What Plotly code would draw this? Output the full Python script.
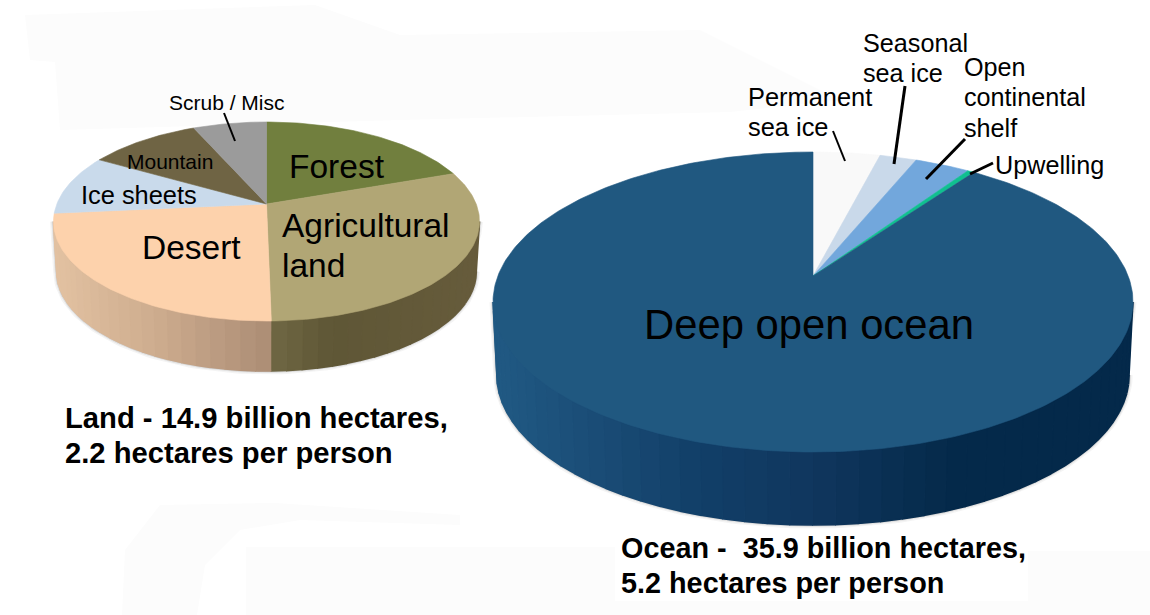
import numpy as np
import plotly.graph_objects as go

# Share of each biome, percent of the total area, clockwise from twelve o'clock
land_labels = ["Forest", "Agricultural land", "Desert", "Ice sheets", "Mountain", "Scrub / Misc"]
land_shares = [19.6, 30.1, 23.8, 9.8, 10.1, 6.6]
land_colors = ["#717f3e", "#b1a675", "#fdd2ac", "#c9daeb", "#6f6444", "#9b9b9b"]

ocean_labels = ["Permanent sea ice", "Seasonal sea ice", "Open continental shelf", "Upwelling", "Deep open ocean"]
ocean_shares = [4.0, 2.2, 3.3, 0.4, 90.1]
ocean_colors = ["#f9f9f9", "#c9d9ea", "#72a7dc", "#10c090", "#205880"]

# Rim shading per slice: (screen x, colour) stops
land_rim = {
    "Agricultural land": [(271, "#706845"), (330, "#5f5736"), (479, "#675c3c")],
    "Desert": [(53, "#e3c2a2"), (150, "#cfae90"), (271, "#ac8d75")],
}
ocean_rim = {
    "Deep open ocean": [(493, "#215a84"), (600, "#1a4c76"), (700, "#123f68"),
                        (813, "#10375e"), (950, "#052a4b"), (1133, "#04294a")],
}

# Pie geometry: apex, half extents behind and in front of it, half width, rim depth
land_geom = dict(cx=266.5, cy=204, back=82, front=117, half=213, depth=50, base=0.985)
ocean_geom = dict(cx=813, cy=276, back=124, front=176, half=320, depth=73, base=0.988)

# Text labels: string, left x, centre y, size
labels = [
    ("Forest", 288, 166, 33.5), ("Agricultural", 281, 225, 33.5), ("land", 281, 265, 33.5),
    ("Desert", 141, 247, 33.5), ("Ice sheets", 80, 195, 25.4), ("Mountain", 126, 161, 21),
    ("Scrub / Misc", 168, 102, 21), ("Deep open ocean", 643, 324, 41.8),
    ("Permanent", 747, 97, 25.4), ("sea ice", 747, 127, 25.4),
    ("Seasonal", 862, 43, 25.2), ("sea ice", 862, 73, 25.2),
    ("Open", 963, 67, 25.2), ("continental", 963, 97, 25.2), ("shelf", 963, 128, 25.2),
    ("Upwelling", 994, 165, 25.2),
]
captions = [
    ("Land - 14.9 billion hectares,", 64, 418, 29.2), ("2.2 hectares per person", 64, 453, 29.2),
    ("Ocean -  35.9 billion hectares,", 620, 548, 28.8), ("5.2 hectares per person", 620, 583, 28.8),
]
# Leader lines from labels into their slices: x0, y0, x1, y1, width
leaders = [
    (224, 113, 235, 141, 2), (833, 131, 845, 161, 2), (905, 86, 894, 164, 3),
    (965, 139, 926, 179, 3), (993, 163, 970, 174, 3),
]
# Very pale washes on the page behind the artwork
washes = [
    "M25,15 L315,5 L400,35 L700,30 L840,100 L730,112 L400,120 L60,130 L55,62 L30,60 Z",
    "M122,615 L125,550 L160,505 L275,503 L460,515 L460,525 L300,520 L240,530 L205,565 L197,615 Z",
    "M246,547 L615,547 L615,601 L1028,601 L1028,551 L1150,551 L1150,615 L246,615 Z",
]


def projector(g):
    """Perspective projection of the pie's unit disc onto the page."""
    k = (g["front"] - g["back"]) / (g["front"] + g["back"])
    a = g["back"] * (1 + k)
    b = g["half"] * np.sqrt(1 - k * k)

    def project(theta, scale=1.0, drop=0.0):
        u, v = np.sin(theta), np.cos(theta)
        w = 1 + k * v
        return g["cx"] + scale * b * u / w, g["cy"] - a * v / w + drop

    return project, k


def hex_rgb(c):
    return np.array([int(c[i:i + 2], 16) for i in (1, 3, 5)], float)


def rim_color(stops, x):
    xs = [s[0] for s in stops]
    rgb = np.array([hex_rgb(s[1]) for s in stops])
    vals = [np.interp(x, xs, rgb[:, i]) for i in range(3)]
    return "rgb(%d,%d,%d)" % tuple(vals)


def poly(fig, x, y, color, lw=0.6, line=None):
    fig.add_trace(go.Scatter(
        x=x, y=y, mode="lines", fill="toself", fillcolor=color,
        line=dict(color=line or color, width=lw), hoverinfo="skip", showlegend=False,
    ))


def add_pie(fig, names, shares, colors, rim, g):
    project, k = projector(g)
    edges = np.concatenate([[0], np.cumsum(shares)]) / np.sum(shares) * 2 * np.pi
    left, right = 2 * np.pi - np.arccos(-k), np.arccos(-k)

    # Soft contact shadow under the rim
    t = np.linspace(right, left, 120)
    tx, ty = project(t)
    bx, by = project(t, g["base"], g["depth"])
    sx = np.concatenate([tx, bx[::-1]])
    sy = np.concatenate([ty, by[::-1]])
    for width, alpha in [(7, 0.05), (4, 0.09), (2, 0.14)]:
        poly(fig, sx, sy, "rgba(0,0,0,0)", lw=width, line="rgba(40,40,40,%.2f)" % alpha)

    # Rim strips along the front of the pie, stroked wide enough to close the seams
    for name, a0, a1 in zip(names, edges[:-1], edges[1:]):
        lo, hi = max(a0, right), min(a1, left)
        if name not in rim or hi <= lo:
            continue
        n = max(2, int(abs(hi - lo) / 0.06))
        grid = np.linspace(lo, hi, n + 1)
        for s0, s1 in zip(grid[:-1], grid[1:]):
            t = np.linspace(s0, s1, 5)
            tx, ty = project(t)
            bx, by = project(t, g["base"], g["depth"])
            c = rim_color(rim[name], float(np.mean(tx)))
            poly(fig, np.concatenate([tx, bx[::-1]]), np.concatenate([ty, by[::-1]]), c, lw=1.6)

    # Top face wedges
    for color, a0, a1 in zip(colors, edges[:-1], edges[1:]):
        t = np.linspace(a0, a1, max(3, int((a1 - a0) * 60)))
        x, y = project(t)
        poly(fig, np.concatenate([[g["cx"]], x, [g["cx"]]]),
             np.concatenate([[g["cy"]], y, [g["cy"]]]), color)


fig = go.Figure()
for path in washes:
    fig.add_shape(type="path", path=path, xref="x", yref="y", layer="below",
                  fillcolor="#fcfcfc", line=dict(width=0))

add_pie(fig, land_labels, land_shares, land_colors, land_rim, land_geom)
add_pie(fig, ocean_labels, ocean_shares, ocean_colors, ocean_rim, ocean_geom)

for x0, y0, x1, y1, w in leaders:
    fig.add_shape(type="line", x0=x0, y0=y0, x1=x1, y1=y1, xref="x", yref="y",
                  line=dict(color="#000000", width=w))

for text, x, y, size in labels:
    fig.add_annotation(x=x, y=y, text=text, showarrow=False, xanchor="left", yanchor="middle",
                       borderpad=0, font=dict(family="Liberation Sans", size=size, color="#000000"))
for text, x, y, size in captions:
    fig.add_annotation(x=x, y=y, text="<b>%s</b>" % text, showarrow=False, xanchor="left",
                       yanchor="middle", borderpad=0,
                       font=dict(family="Liberation Sans", size=size, color="#000000"))

fig.update_layout(
    width=1150, height=615, margin=dict(l=0, r=0, t=0, b=0),
    paper_bgcolor="#ffffff", plot_bgcolor="#ffffff", showlegend=False,
    xaxis=dict(range=[0, 1150], visible=False, fixedrange=True),
    yaxis=dict(range=[615, 0], visible=False, fixedrange=True),
)
fig.write_html("out.html", config=dict(displayModeBar=False))
